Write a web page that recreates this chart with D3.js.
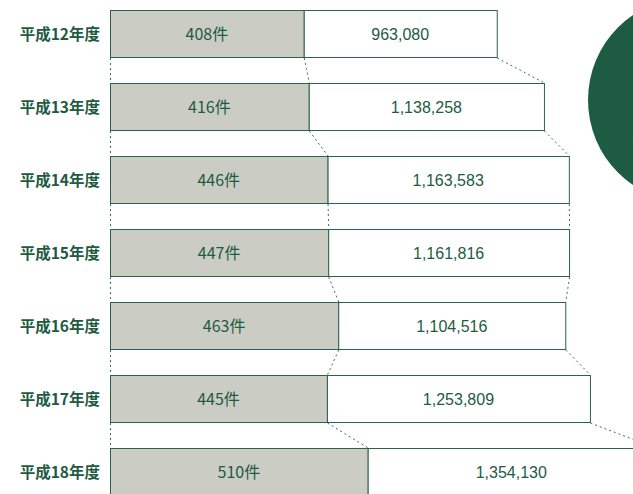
<!DOCTYPE html>
<html><head><meta charset="utf-8">
<script src="https://cdn.jsdelivr.net/npm/d3@7"></script>
<style>body{margin:0;background:#fff;overflow:hidden}svg{display:block}</style>
</head><body>
<svg id="c" width="633" height="494"></svg>
<script>
const years = ["平成12年度","平成13年度","平成14年度","平成15年度","平成16年度","平成17年度","平成18年度"];
const counts = [408, 416, 446, 447, 463, 445, 510];
const amounts = [963080, 1138258, 1163583, 1161816, 1104516, 1253809, 1354130];

const green = "#1d5b42", stroke = "#2b6249", gray = "#cbccc4";
const svg = d3.select("#c");
const x0 = 110;
const y = d3.scaleBand().domain(years).range([10, 10 + 7 * 73 - 25]).paddingInner(25/73).paddingOuter(0);
const wCount = d3.scaleLinear().domain([99, 510]).range([0, 257.7]);
const wAmt = d3.scaleLinear().domain([161500, 963080]).range([0, 193]);

const rows = years.map((yr, i) => {
  const g = x0 + wCount(counts[i]);
  return {yr, c: counts[i], a: amounts[i], top: y(yr), bot: y(yr) + y.bandwidth(), g, e: g + wAmt(amounts[i])};
});

// circle
svg.append("circle").attr("cx", 691).attr("cy", 100).attr("r", 103).attr("fill", green);
svg.append("text").attr("x", 632).attr("y", 137).attr("fill", "#fff")
  .attr("font-family", "Noto Sans CJK JP").attr("font-size", 13).text("1件平均");

// connectors
for (let i = 0; i < rows.length - 1; i++) {
  const a = rows[i], b = rows[i + 1];
  [[x0, x0], [a.g, b.g], [a.e, b.e]].forEach(([p, q]) => {
    svg.append("line").attr("x1", p + 0.5).attr("y1", a.bot).attr("x2", q + 0.5).attr("y2", b.top)
      .attr("stroke", "#3e6f5a").attr("stroke-width", 1).attr("stroke-dasharray", "2,3");
  });
}

const row = svg.selectAll("g.row").data(rows).join("g").attr("class", "row");
row.append("rect").attr("x", x0 + 0.5).attr("y", d => d.top + 0.5)
  .attr("width", d => d.g - x0).attr("height", y.bandwidth() - 1)
  .attr("fill", gray).attr("stroke", stroke).attr("stroke-width", 1);
row.append("rect").attr("x", d => d.g + 0.5).attr("y", d => d.top + 0.5)
  .attr("width", d => d.e - d.g).attr("height", y.bandwidth() - 1)
  .attr("fill", "#fff").attr("stroke", stroke).attr("stroke-width", 1);

row.append("text").attr("x", 100).attr("y", d => d.top + y.bandwidth() / 2 + 6)
  .attr("text-anchor", "end").attr("fill", green).attr("font-weight", "bold")
  .attr("font-family", "Noto Sans CJK JP").attr("font-size", 15.5).text(d => d.yr);
row.append("text").attr("x", d => (x0 + d.g) / 2).attr("y", d => d.top + y.bandwidth() / 2 + 6)
  .attr("text-anchor", "middle").attr("fill", green)
  .attr("font-family", "Noto Sans CJK JP").attr("font-size", 16).text(d => d.c + "件");
row.append("text").attr("x", d => (d.g + d.e) / 2).attr("y", d => d.top + y.bandwidth() / 2 + 6)
  .attr("text-anchor", "middle").attr("fill", green)
  .attr("font-family", "Liberation Sans, Arial, sans-serif").attr("font-size", 16)
  .text(d => d3.format(",")(d.a));
</script>
</body></html>
